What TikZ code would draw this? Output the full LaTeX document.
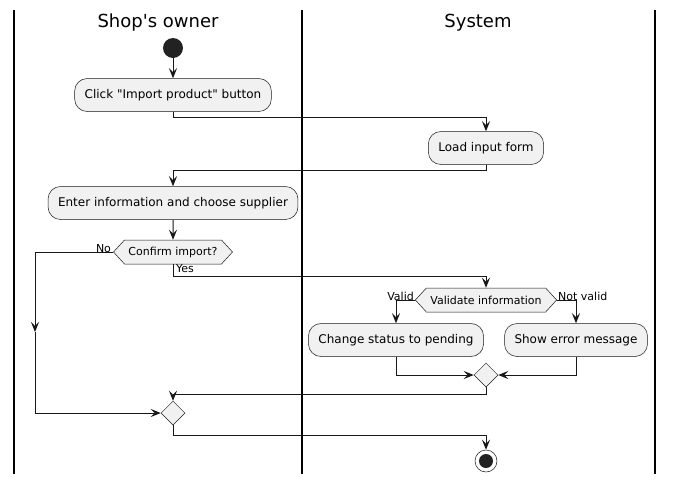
\documentclass[tikz,border=0pt]{standalone}
\usepackage{fontspec}
\setmainfont{DejaVu Sans}[Ligatures=TeXOff]
\usetikzlibrary{arrows.meta,shapes.geometric,shapes.symbols}
\definecolor{boxfill}{HTML}{F1F1F1}
\definecolor{ink}{HTML}{181818}
\definecolor{dot}{HTML}{222222}
\tikzset{
  act/.style={draw=ink,line width=0.5pt,fill=boxfill,rounded corners=12.5pt,
    minimum height=33pt,inner xsep=10pt,font=\fontsize{12}{14}\selectfont},
  hexa/.style={draw=ink,line width=0.5pt,fill=boxfill,signal,signal to=west and east,
    signal pointer angle=95,minimum height=24pt,inner xsep=4pt,inner ysep=2pt,
    font=\fontsize{11}{13}\selectfont},
  merge/.style={draw=ink,line width=0.5pt,fill=boxfill,diamond,inner sep=0pt,
    minimum width=24pt,minimum height=24pt},
  arr/.style={draw=ink,line width=1pt,-{Stealth[length=10pt,width=8pt,inset=4pt]}},
  lane/.style={draw=black,line width=1.2pt},
  lbl/.style={font=\fontsize{11}{13}\selectfont,inner sep=0pt},
  title/.style={font=\fontsize{18}{20}\selectfont,inner sep=0pt}
}
\begin{document}
\begin{tikzpicture}[x=1pt,y=-1pt]
\useasboundingbox (0,0) rectangle (673,483);
% lanes
\draw[lane] (14,10) -- (14,474);
\draw[lane] (302,10) -- (302,474);
\draw[lane] (655,10) -- (655,474);
\node[title] (t1) at (158,23) {Shop's owner};
\node[title] (t2) at (478,23) {System};
% nodes
\node[circle,fill=dot,minimum size=20pt,inner sep=0pt] (start) at (173,48) {};
\node[act] (click) at (173,95) {Click "Import product" button};
\node[act] (load) at (486,148) {Load input form};
\node[act] (enter) at (173,203) {Enter information and choose supplier};
\node[hexa] (confirm) at (173,252) {Confirm import?};
\node[hexa] (valid) at (486,300) {Validate information};
\node[act] (change) at (396,340) {Change status to pending};
\node[act] (err) at (576,340) {Show error message};
\node[merge] (m1) at (486,375) {};
\node[merge] (m2) at (173,413) {};
\node[circle,draw=ink,line width=0.5pt,fill=white,minimum size=22pt,inner sep=0pt] (end) at (486,461) {};
\node[circle,fill=dot,minimum size=14pt,inner sep=0pt] (endin) at (486,461) {};
\coordinate (noarr) at (35,332);
% connectors
\draw[arr] (start) -- (click);
\draw[arr] (click.south) -- ++(0,6) -| (load.north);
\draw[arr] (load.south) -- ++(0,6) -| (enter.north);
\draw[arr] (enter) -- (confirm);
\draw[arr] (confirm.west) -| (noarr);
\draw[arr] (noarr) |- (m2.west);
\draw[arr] (confirm.south) -- ++(0,12) -| (valid.north);
\draw[arr] (valid.west) -| (change.north);
\draw[arr] (valid.east) -| (err.north);
\draw[arr] (change.south) |- (m1.west);
\draw[arr] (err.south) |- (m1.east);
\draw[arr] (m1.south) -- ++(0,7) -| (m2.north);
\draw[arr] (m2.south) -- ++(0,10) -| (end.north);
% labels
\node[lbl,anchor=south east] (lno) at ([xshift=-2pt,yshift=-1pt]confirm.west) {No};
\node[lbl,anchor=north west] (lyes) at ([xshift=3pt,yshift=0pt]confirm.south) {Yes};
\node[lbl,anchor=south east] (lvalid) at ([xshift=-1pt,yshift=-1pt]valid.west) {Valid};
\node[lbl,anchor=south west] (lnot) at ([xshift=1pt,yshift=-1pt]valid.east) {Not valid};
\end{tikzpicture}
\end{document}
